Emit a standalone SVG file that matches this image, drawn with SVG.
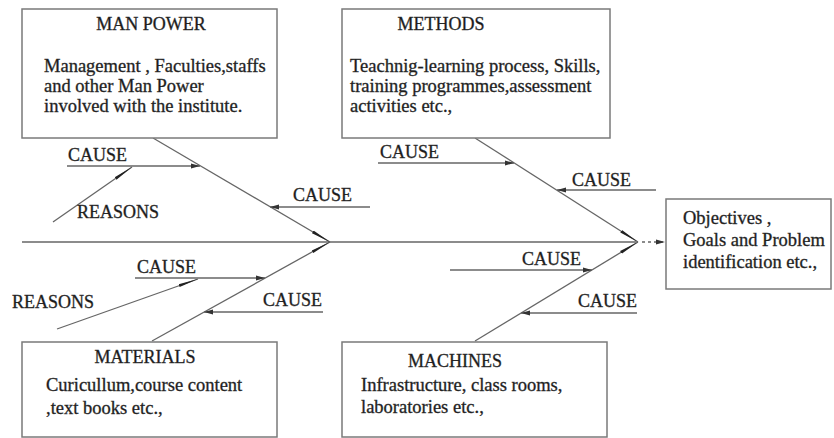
<svg xmlns="http://www.w3.org/2000/svg" width="834" height="438" viewBox="0 0 834 438">
<style>
.box{fill:#fff;stroke:#7a7a7a;stroke-width:1.5}
.ln{stroke:#666;stroke-width:1.3;fill:none}
text{font-family:"Liberation Serif","DejaVu Serif","Times New Roman",Times,serif;fill:#1a1a1a;stroke:#333;stroke-width:0.35}
.t{font-size:18.5px}
.h{font-size:18px}
.c{font-size:18px}
.mid{text-anchor:middle}
</style>
<defs>
<marker id="ah" markerUnits="userSpaceOnUse" markerWidth="9" markerHeight="6" refX="9" refY="3" orient="auto">
<path d="M0,0.5 L9,3 L0,5.5 z" fill="#333"/>
</marker>
<marker id="al" markerUnits="userSpaceOnUse" markerWidth="20" markerHeight="5" refX="20" refY="2.5" orient="auto">
<path d="M0,1 L20,2.5 L0,4 z" fill="#222"/>
</marker>
</defs>
<rect width="834" height="438" fill="#fff"/>
<g id="connectors">
<line class="ln" x1="22" y1="242" x2="636" y2="242"/>
<line class="ln" x1="642" y1="242" x2="665" y2="242" stroke-dasharray="3,3" marker-end="url(#ah)"/>
<line class="ln" x1="153" y1="138" x2="330" y2="242" marker-end="url(#al)"/>
<line class="ln" x1="152" y1="341" x2="330" y2="242" marker-end="url(#al)"/>
<line class="ln" x1="475" y1="138" x2="638" y2="242" marker-end="url(#al)"/>
<line class="ln" x1="475" y1="341" x2="638" y2="242" marker-end="url(#al)"/>
<line class="ln" x1="67" y1="166" x2="200" y2="166" marker-end="url(#ah)"/>
<line class="ln" x1="53" y1="222" x2="132" y2="167" marker-end="url(#al)"/>
<line class="ln" x1="370" y1="207" x2="270" y2="207" marker-end="url(#ah)"/>
<line class="ln" x1="378" y1="163" x2="514" y2="163" marker-end="url(#ah)"/>
<line class="ln" x1="656" y1="190" x2="557" y2="190" marker-end="url(#ah)"/>
<line class="ln" x1="135" y1="278" x2="265" y2="278" marker-end="url(#ah)"/>
<line class="ln" x1="57" y1="329" x2="198" y2="279" marker-end="url(#al)"/>
<line class="ln" x1="323" y1="312" x2="204" y2="312" marker-end="url(#ah)"/>
<line class="ln" x1="450" y1="270" x2="592" y2="270" marker-end="url(#ah)"/>
<line class="ln" x1="637" y1="313" x2="521" y2="313" marker-end="url(#ah)"/>
</g>
<g id="labels">
<text class="c" x="68" y="161">CAUSE</text>
<text class="c" x="77" y="218">REASONS</text>
<text class="c" x="293" y="201">CAUSE</text>
<text class="c" x="380" y="158">CAUSE</text>
<text class="c" x="572" y="186">CAUSE</text>
<text class="c" x="137" y="273">CAUSE</text>
<text class="c" x="12" y="308">REASONS</text>
<text class="c" x="263" y="306">CAUSE</text>
<text class="c" x="522" y="265">CAUSE</text>
<text class="c" x="578" y="307">CAUSE</text>
</g>
<g id="manpower">
<rect class="box" x="22" y="9" width="255" height="129"/>
<text class="h mid" x="151" y="30">MAN POWER</text>
<text class="t" x="44" y="72">Management , Faculties,staffs</text>
<text class="t" x="44" y="92">and other Man Power</text>
<text class="t" x="44" y="112">involved with the institute.</text>
</g>
<g id="methods">
<rect class="box" x="342" y="9" width="268" height="129"/>
<text class="h mid" x="441" y="30">METHODS</text>
<text class="t" x="350" y="72">Teachnig-learning process, Skills,</text>
<text class="t" x="350" y="92">training programmes,assessment</text>
<text class="t" x="350" y="112">activities etc.,</text>
</g>
<g id="objectives">
<rect class="box" x="666" y="199" width="165" height="90"/>
<text class="t" x="683" y="224">Objectives ,</text>
<text class="t" x="683" y="246">Goals and Problem</text>
<text class="t" x="683" y="268">identification etc.,</text>
</g>
<g id="materials">
<rect class="box" x="22" y="342" width="255" height="95"/>
<text class="h mid" x="145" y="363">MATERIALS</text>
<text class="t" x="46" y="391">Curicullum,course content</text>
<text class="t" x="46" y="414">,text books etc.,</text>
</g>
<g id="machines">
<rect class="box" x="342" y="342" width="265" height="95"/>
<text class="h mid" x="455" y="367">MACHINES</text>
<text class="t" x="361" y="391">Infrastructure, class rooms,</text>
<text class="t" x="361" y="413">laboratories etc.,</text>
</g>
</svg>
